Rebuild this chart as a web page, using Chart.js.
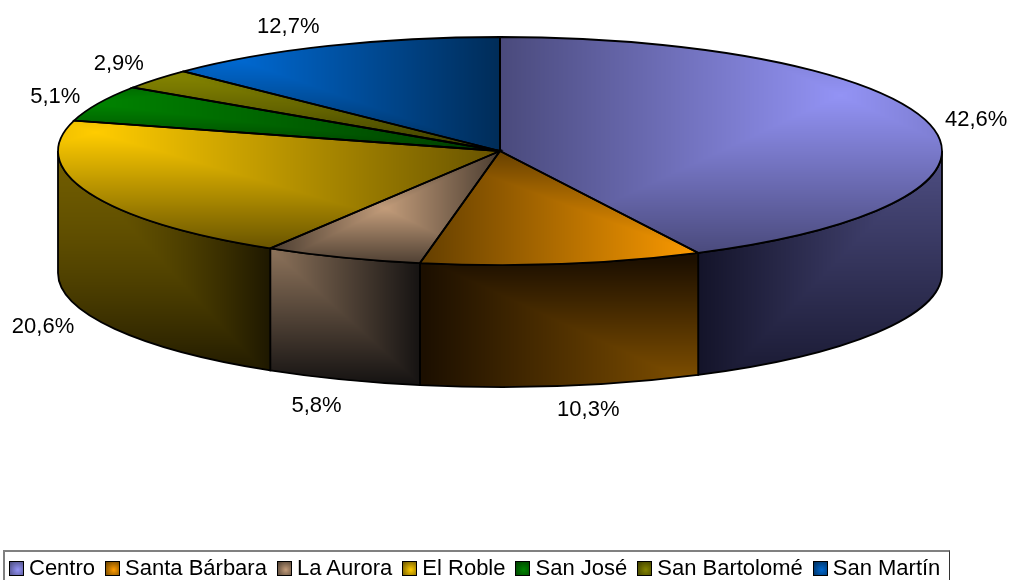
<!DOCTYPE html>
<html lang="es">
<head>
<meta charset="utf-8">
<title>Distribución por barrio</title>
<script src="https://cdn.jsdelivr.net/npm/chart.js@4/dist/chart.umd.min.js"></script>
<style>
  html, body { margin: 0; background: #fff; overflow: hidden; }
  #wrap { position: relative; width: 1010px; height: 580px; overflow: hidden; }
  #grafico { position: absolute; left: 0; top: 0; }
  #leyenda {
    position: absolute; left: 3px; top: 550px; width: 947px; height: 40px; box-sizing: border-box;
    border-top: 2px solid #808080; border-left: 2px solid #808080; border-right: 1px solid #333;
    display: flex; gap: 10px; padding: 3px 0 0 4px;
    font: 22px "Liberation Sans", Arial, sans-serif; color: #000; line-height: 25px;
  }
  #leyenda .item { display: flex; align-items: center; white-space: nowrap; height: 25px; }
  #leyenda .caja { width: 13px; height: 13px; border: 1px solid #000; margin-right: 5px; margin-top: 2px; }
</style>
</head>
<body>
<div id="wrap">
  <canvas id="grafico" width="1010" height="580"></canvas>
  <div id="leyenda"></div>
</div>
<script>
const categorias = ['Centro', 'Santa Bárbara', 'La Aurora', 'El Roble', 'San José', 'San Bartolomé', 'San Martín']
const valores = [42.6, 10.3, 5.8, 20.6, 5.1, 2.9, 12.7]

// colores claro / oscuro de cada porcion
const claros = ['#9393F5', '#FF9C00', '#C29C7A', '#FFCC00', '#008400', '#848400', '#0068D0']
const oscuros = ['#4A4A7C', '#664000', '#4A3C30', '#665200', '#003C00', '#3C3C00', '#002C58']
const ladoClaros = ['#4F4F84', '#845200', '#8C725A', '#705C00', '#000', '#000', '#000']
const ladoOscuros = ['#14142A', '#1C0F00', '#121010', '#1C1600', '#000', '#000', '#000']

// foco del degradado: [x, y, alcanceX, alcanceY, curva]
const focoTapa = [
    [840, 95, 340, 158, 1], [702, 256, 278, 105, 1], [385, 208, 115, 57, 1], [95, 132, 405, 118, 1],
    [90, 103, 410, 48, 1], [170, 75, 330, 76, 1], [240, 60, 260, 91, 1]
]
const focoLado = [
    [945, 150, 245, 250, 1], [702, 387, 278, 128, 1], [272, 250, 152, 137, 1], [58, 150, 214, 230, 1.6],
    [0, 0, 1, 1, 1], [0, 0, 1, 1, 1], [0, 0, 1, 1, 1]
]
// desplazamiento de cada etiqueta respecto al borde de su porcion
const ajusteEtiquetas = [[46, -5], [26, 24], [-26, 26], [-46, 12], [-43, -6], [-38, -15], [-40, -19]]

const ANCHO = 1010
const ALTO = 580
const RX = 442
const RY = 114
const PROFUNDO = 122
const K = RY / RX
const PADDING_ABAJO = 278
const CY = (ALTO - PADDING_ABAJO) / 2

const hexRgb = h => {
    if (h.length === 4) h = '#' + h[1] + h[1] + h[2] + h[2] + h[3] + h[3]
    return [1, 3, 5].map(i => parseInt(h.slice(i, i + 2), 16))
}

// degradado rectangular desde un foco, como el relleno "desde la esquina" de Office
function lienzoDegradado(claro, oscuro, foco) {
    const c = document.createElement('canvas')
    c.width = ANCHO
    c.height = ALTO
    const g = c.getContext('2d')
    const img = g.createImageData(ANCHO, ALTO)
    const a = hexRgb(claro)
    const b = hexRgb(oscuro)
    let n = 0
    for (let y = 0; y < ALTO; y++) {
        for (let x = 0; x < ANCHO; x++) {
            const d = Math.max(Math.abs(x - foco[0]) / foco[2], Math.abs(y - foco[1]) / foco[3])
            const t = Math.pow(Math.min(1, d), foco[4])
            img.data[n++] = a[0] + (b[0] - a[0]) * t
            img.data[n++] = a[1] + (b[1] - a[1]) * t
            img.data[n++] = a[2] + (b[2] - a[2]) * t
            img.data[n++] = 255
        }
    }
    g.putImageData(img, 0, 0)
    return c
}

const lienzosTapa = categorias.map((_, i) => lienzoDegradado(claros[i], oscuros[i], focoTapa[i]))
const lienzosLado = categorias.map((_, i) => lienzoDegradado(ladoClaros[i], ladoOscuros[i], focoLado[i]))

const $canvas = document.getElementById('grafico')
const ctx = $canvas.getContext('2d')
const patronesLado = lienzosLado.map(c => ctx.createPattern(c, 'no-repeat'))

// la tapa se dibuja aplastada, el patron compensa esa escala
const patronesTapa = lienzosTapa.map(c => {
    const p = ctx.createPattern(c, 'no-repeat')
    p.setTransform(new DOMMatrix([1, 0, 0, 1 / K, 0, CY - CY / K]))
    return p
})

const tartaPlana = {
    id: 'tartaPlana',
    beforeDatasetsDraw(chart) {
        const c = chart.ctx
        const arcos = chart.getDatasetMeta(0).data
        const { x: cx, y: cy } = arcos[0]
        arcos.forEach((arco, i) => {
            const a0 = Math.max(arco.startAngle, 0)
            const a1 = Math.min(arco.endAngle, Math.PI)
            if (a1 <= a0) return
            c.beginPath()
            c.ellipse(cx, cy, RX, RY, 0, a0, a1)
            c.ellipse(cx, cy + PROFUNDO, RX, RY, 0, a1, a0, true)
            c.closePath()
            c.fillStyle = patronesLado[i]
            c.fill()
            c.strokeStyle = '#000'
            c.lineWidth = 1.8
            c.stroke()
        })
        c.save()
        c.translate(0, cy)
        c.scale(1, K)
        c.translate(0, -cy)
    },
    afterDatasetsDraw(chart) {
        const c = chart.ctx
        c.restore()
        const arcos = chart.getDatasetMeta(0).data
        arcos.forEach((arco, i) => {
            c.beginPath()
            c.moveTo(arco.x, arco.y)
            c.ellipse(arco.x, arco.y, RX, RY, 0, arco.startAngle, arco.endAngle)
            c.closePath()
            c.strokeStyle = '#000'
            c.lineWidth = 1.8
            c.stroke()

            const medio = (arco.startAngle + arco.endAngle) / 2
            const sx = arco.x + RX * Math.cos(medio)
            let sy = arco.y + RY * Math.sin(medio)
            if (Math.sin(medio) > 0) sy += PROFUNDO
            c.fillStyle = '#000'
            c.font = '22px "Liberation Sans", Arial, sans-serif'
            c.textAlign = 'center'
            c.textBaseline = 'middle'
            const texto = valores[i].toFixed(1).replace('.', ',') + '%'
            c.fillText(texto, sx + ajusteEtiquetas[i][0], sy + ajusteEtiquetas[i][1])
        })
    }
}

new Chart($canvas, {
    type: 'pie',
    data: {
        labels: categorias,
        datasets: [{
            data: valores,
            radius: RX,
            borderWidth: 0,
            backgroundColor: patronesTapa
        }]
    },
    options: {
        responsive: false,
        animation: false,
        layout: { padding: { left: 0, right: 10, top: 0, bottom: PADDING_ABAJO } },
        events: [],
        plugins: { legend: { display: false }, tooltip: { enabled: false } }
    },
    plugins: [tartaPlana]
})

const $leyenda = document.getElementById('leyenda')
categorias.forEach((nombre, i) => {
    const item = document.createElement('div')
    item.className = 'item'
    const caja = document.createElement('span')
    caja.className = 'caja'
    caja.style.background = `radial-gradient(circle at 60% 60%, ${claros[i]} 0%, ${oscuros[i]} 100%)`
    item.appendChild(caja)
    item.appendChild(document.createTextNode(nombre))
    $leyenda.appendChild(item)
})
</script>
</body>
</html>
